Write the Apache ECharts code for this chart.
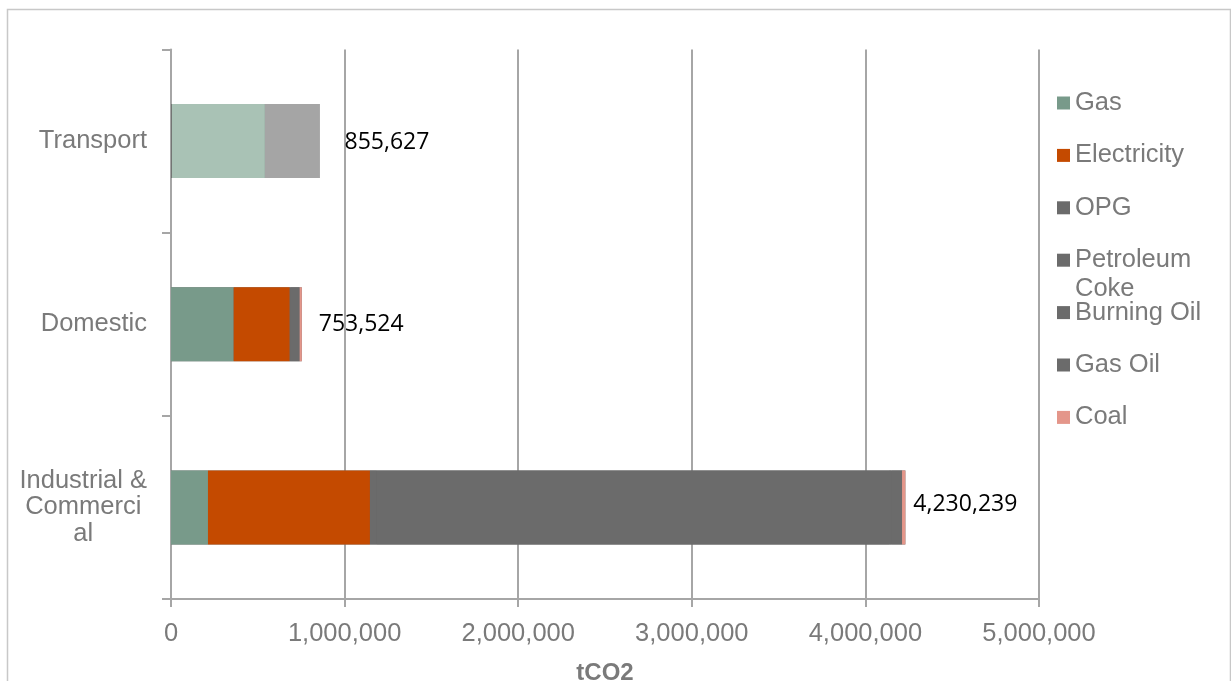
<!DOCTYPE html>
<html>
<head>
<meta charset="utf-8">
<title>tCO2 by sector</title>
<script src="https://cdn.jsdelivr.net/npm/echarts@6/dist/echarts.min.js"></script>
<style>
  html, body { margin: 0; padding: 0; background: #ffffff; }
  #chart { width: 1231px; height: 681px; }
</style>
</head>
<body>
<div id="chart"></div>
<script>
// Sectors, bottom to top on the category axis
const categories = ['Industrial & Commercial', 'Domestic', 'Transport'];
const categoryLines = {
  'Industrial & Commercial': ['Industrial &', 'Commerci', 'al'],
  'Domestic': ['Domestic'],
  'Transport': ['Transport']
};

// Emissions by fuel (tCO2), same order as categories
const gas           = [213000, 361000, 0];
const electricity   = [933000, 323000, 0];
const opg           = [40000, 5000, 0];
const petroleumCoke = [2950000, 0, 0];
const burningOil    = [15000, 52000, 0];
const gasOil        = [60000, 0, 5000];
const coal          = [19239, 12524, 0];
const diesel        = [0, 0, 536000];
const petrol        = [0, 0, 314627];

// Value axis ticks
const xTicks = [0, 1000000, 2000000, 3000000, 4000000, 5000000];

const fuelSeries = [
  { name: 'Gas', data: gas, color: '#789A8A', legend: true },
  { name: 'Electricity', data: electricity, color: '#C44A00', legend: true },
  { name: 'OPG', data: opg, color: '#6B6B6B', legend: true },
  { name: 'Petroleum Coke', data: petroleumCoke, color: '#6B6B6B', legend: true },
  { name: 'Burning Oil', data: burningOil, color: '#6B6B6B', legend: true },
  { name: 'Gas Oil', data: gasOil, color: '#6B6B6B', legend: true },
  { name: 'Coal', data: coal, color: '#E4968A', legend: true },
  { name: 'Diesel', data: diesel, color: '#A9C2B5', legend: false },
  { name: 'Petrol', data: petrol, color: '#A5A5A5', legend: false }
];

const totals = categories.map((_, i) =>
  fuelSeries.reduce((sum, s) => sum + s.data[i], 0));

const fmt = v => Number(v).toLocaleString('en-US');

const textGray = '#7A7A7A';
const lineGray = '#A6A6A6';
const sansFont = '"Liberation Sans", Arial, sans-serif';

// per-bar gap between bar end and total label, and vertical nudge
const labelDistance = [8, 17, 25];
const labelNudge = [-3, 0, 1];

const chart = echarts.init(document.getElementById('chart'), null, { renderer: 'canvas' });

// empty segments are skipped
const series = fuelSeries.map(s => ({
  name: s.name,
  type: 'bar',
  stack: 'total',
  barWidth: 74,
  z: 3,
  data: s.data.map(v => (v === 0 ? '-' : v)),
  itemStyle: { color: s.color },
  emphasis: { disabled: true }
}));

// full-length bar behind each stack: carries the total label and
// fills the hairlines between neighbouring segments
series.push({
  name: 'Total',
  type: 'bar',
  barWidth: 74,
  barGap: '-100%',
  silent: true,
  z: 1,
  itemStyle: { color: '#6B6B6B' },
  data: totals.map((t, i) => ({
    value: t,
    label: { distance: labelDistance[i], offset: [0, labelNudge[i]] }
  })),
  label: {
    show: true,
    position: 'right',
    formatter: p => fmt(p.value),
    color: '#000000',
    fontSize: 23,
    fontFamily: '"Open Sans", "Noto Sans", sans-serif'
  }
});

// one legend block per fuel so each row sits on a fixed pitch;
// the two-line entry gets a blank first line so its first line sits on the swatch
const legendRows = fuelSeries.filter(s => s.legend).map(s => s.name);
const centerOf = i => 103 + i * 52.4;
const lh = 28;
const lh2 = 29;
const legends = legendRows.map((name, i) => {
  const twoLine = name === 'Petroleum Coke';
  return {
    data: [name],
    orient: 'vertical',
    left: 1057,
    top: twoLine ? centerOf(i) - 1.5 * lh2 : centerOf(i) - lh / 2,
    padding: 0,
    itemWidth: 13,
    itemHeight: 13,
    icon: 'rect',
    selectedMode: false,
    formatter: twoLine ? ' \nPetroleum\nCoke' : '{name}',
    textStyle: {
      fontSize: 25.5,
      lineHeight: twoLine ? lh2 : lh,
      color: textGray,
      fontFamily: sansFont
    }
  };
});

const option = {
  backgroundColor: '#ffffff',
  animation: false,
  graphic: [{
    type: 'rect',
    silent: true,
    shape: { x: 7.5, y: 9.5, width: 1223, height: 700 },
    style: { fill: 'none', stroke: '#C8C8C8', lineWidth: 1.5 }
  }],
  legend: legends,
  grid: {
    left: 171, right: 192, top: 49.5, bottom: 82,
    containLabel: false,
    outerBoundsMode: 'none'
  },
  xAxis: {
    type: 'value',
    min: xTicks[0],
    max: xTicks[xTicks.length - 1],
    interval: xTicks[1] - xTicks[0],
    name: 'tCO2',
    nameLocation: 'middle',
    nameGap: 62,
    nameTextStyle: { fontSize: 24, fontWeight: 'bold', color: textGray, fontFamily: sansFont },
    axisLine: { show: true, lineStyle: { color: lineGray, width: 2 } },
    axisTick: { show: true, length: 8, lineStyle: { color: lineGray, width: 2 } },
    axisLabel: {
      margin: 22,
      fontSize: 25.5,
      color: textGray,
      fontFamily: sansFont,
      formatter: v => fmt(v)
    },
    splitLine: { show: true, lineStyle: { color: lineGray, width: 2 } }
  },
  yAxis: {
    type: 'category',
    data: categories,
    axisLine: { show: true, lineStyle: { color: lineGray, width: 2 } },
    axisTick: { show: true, length: 9, lineStyle: { color: lineGray, width: 2 } },
    axisLabel: {
      margin: 24,
      fontSize: 25.5,
      color: textGray,
      fontFamily: sansFont,
      lineHeight: 26.5,
      formatter: v => categoryLines[v].map(l => '{c|' + l + '}').join('\n'),
      rich: {
        c: { align: 'center', fontSize: 25.5, lineHeight: 26.5, color: textGray, fontFamily: sansFont }
      }
    },
    splitLine: { show: false }
  },
  series: series
};

chart.setOption(option);
</script>
</body>
</html>
